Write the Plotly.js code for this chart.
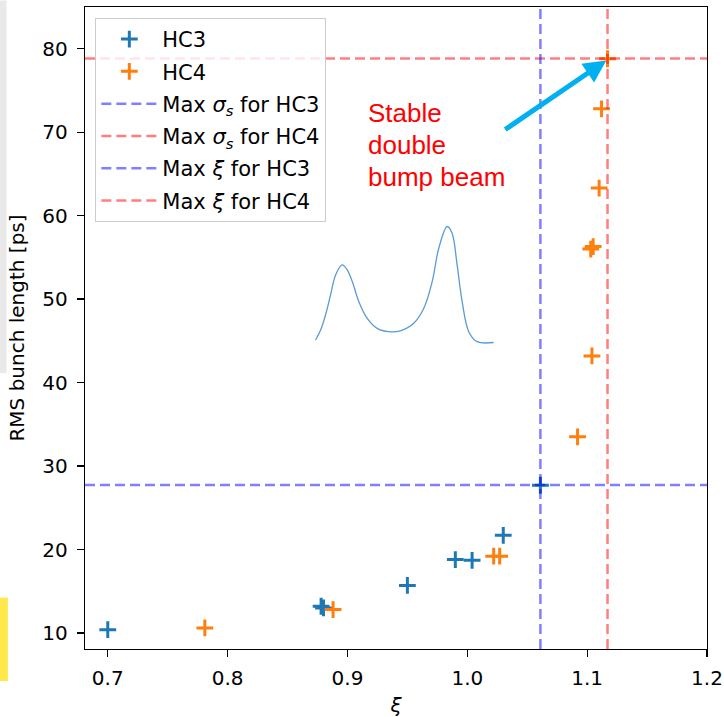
<!DOCTYPE html>
<html>
<head>
<meta charset="utf-8">
<script src="https://cdn.plot.ly/plotly-3.0.1.min.js"></script>
<style>html,body{margin:0;padding:0;background:#fff;}#chart{width:724px;height:717px;}</style>
</head>
<body>
<div id="chart"></div>
<script>
// ---- data ----
const hc3X = [0.700, 0.878, 0.880, 0.950, 0.990, 1.004, 1.030, 1.061];
const hc3Y = [10.4, 13.2, 13.0, 15.7, 18.8, 18.7, 21.7, 27.7];
const hc4X = [0.781, 0.888, 1.022, 1.027, 1.092, 1.104, 1.103, 1.105, 1.110, 1.112, 1.117];
const hc4Y = [10.6, 12.8, 19.2, 19.2, 33.5, 43.2, 56.0, 56.3, 63.3, 72.8, 78.8];
const maxSigma = {HC3: 27.74, HC4: 78.84};
const maxXi = {HC3: 1.061, HC4: 1.117};
// double-bump profile sketch (drawn in data coordinates)
const bumpX = [0.8734, 0.8776, 0.8817, 0.8859, 0.8901, 0.8956, 0.8998, 0.9040, 0.9095, 0.9165, 0.9248, 0.9345,
               0.9443, 0.9553, 0.9637, 0.9707, 0.9762, 0.9832, 0.9873, 0.9915, 0.9957, 1.0012, 1.0082, 1.0220];
const bumpY = [45.1, 46.3, 48.1, 50.5, 52.9, 54.1, 53.5, 52.1, 49.7, 47.7, 46.5, 46.1,
               46.2, 47.1, 48.9, 52.1, 56.1, 58.7, 57.9, 54.1, 49.7, 46.1, 44.9, 44.8];
const xTicks = [0.7, 0.8, 0.9, 1.0, 1.1, 1.2];
const yTicks = [10, 20, 30, 40, 50, 60, 70, 80];
const XLIM = [0.681, 1.2];
const YLIM = [8.08, 85.0];
const labelLines = ['Stable', 'double', 'bump beam'];

const FONT = 'DejaVu Sans, sans-serif';
const BLUE = '#1f77b4', ORANGE = '#ff7f0e';
const LBLUE = 'rgba(0,0,255,0.5)', LRED = 'rgba(255,0,0,0.5)';
const DASH = '10px,5px';

const traces = [
  {x: hc3X, y: hc3Y, type: 'scatter', mode: 'markers', name: 'HC3', legendgroup: 'g1',
   marker: {symbol: 'cross-thin', size: 12, color: BLUE, line: {color: BLUE, width: 3}}},
  {x: hc4X, y: hc4Y, type: 'scatter', mode: 'markers', name: 'HC4', legendgroup: 'g2',
   marker: {symbol: 'cross-thin', size: 12, color: ORANGE, line: {color: ORANGE, width: 3}}},
  {x: XLIM, y: [maxSigma.HC3, maxSigma.HC3], type: 'scatter', mode: 'lines', legendgroup: 'g3',
   name: 'Max <i>σ</i><sub><i>s</i></sub> for HC3', line: {color: LBLUE, width: 2.5, dash: DASH}},
  {x: XLIM, y: [maxSigma.HC4, maxSigma.HC4], type: 'scatter', mode: 'lines', legendgroup: 'g4',
   name: 'Max <i>σ</i><sub><i>s</i></sub> for HC4', line: {color: LRED, width: 2.5, dash: DASH}},
  {x: [maxXi.HC3, maxXi.HC3], y: YLIM, type: 'scatter', mode: 'lines', legendgroup: 'g5',
   name: 'Max <i>ξ</i> for HC3', line: {color: LBLUE, width: 2.5, dash: DASH}},
  {x: [maxXi.HC4, maxXi.HC4], y: YLIM, type: 'scatter', mode: 'lines', legendgroup: 'g6',
   name: 'Max <i>ξ</i> for HC4', line: {color: LRED, width: 2.5, dash: DASH}},
  {x: bumpX, y: bumpY, type: 'scatter', mode: 'lines', showlegend: false, hoverinfo: 'skip',
   line: {color: '#5a9bd4', width: 1.3, shape: 'spline'}}
];

const axisCommon = {
  showgrid: false, zeroline: false, showline: true, mirror: true,
  linecolor: '#000', linewidth: 1.3, ticks: 'outside', ticklen: 7, tickwidth: 1.3, tickcolor: '#000',
  tickfont: {family: FONT, size: 20, color: '#000'}
};

// red label, one annotation per line (pixel rows of the reference converted to data y)
const labelY = [72.35, 68.5, 64.65];
const annotations = labelLines.map((t, i) => ({
  x: 0.9155, y: labelY[i], xref: 'x', yref: 'y', xanchor: 'left', yanchor: 'middle', align: 'left',
  text: t, showarrow: false,
  font: {family: 'Liberation Sans, Arial, sans-serif', size: 26, color: '#ff0000'}
}));
annotations.push({x: 1.116, y: 78.6, xref: 'x', yref: 'y', ax: 1.0304, ay: 70.2, axref: 'x', ayref: 'y',
  text: '', showarrow: true, arrowcolor: '#00b0f0', arrowwidth: 5, arrowhead: 2, arrowsize: 0.9, standoff: 0});

const layout = {
  width: 724, height: 717,
  margin: {l: 85, r: 17, t: 7, b: 68},
  paper_bgcolor: '#fff', plot_bgcolor: '#fff',
  font: {family: FONT, size: 20, color: '#000'},
  xaxis: Object.assign({}, axisCommon, {
    range: XLIM, tickvals: xTicks, tickformat: '.1f', ticklabelstandoff: 4,
    title: {text: '<i>ξ</i>', font: {family: FONT, size: 20, color: '#000'}, standoff: 8}
  }),
  yaxis: Object.assign({}, axisCommon, {
    range: YLIM, tickvals: yTicks, ticklabelstandoff: 5,
    title: {text: 'RMS bunch length [ps]', font: {family: FONT, size: 20, color: '#000'}, standoff: 12}
  }),
  legend: {
    x: 0.0166, y: 0.983, xanchor: 'left', yanchor: 'top', traceorder: 'grouped', tracegroupgap: 2,
    bgcolor: 'rgba(255,255,255,0.8)', bordercolor: '#cccccc', borderwidth: 1,
    font: {family: FONT, size: 21, color: '#000'}, itemwidth: 56
  },
  shapes: [
    {type: 'rect', xref: 'paper', yref: 'paper', x0: -0.137, x1: -0.126, y0: 0.43, y1: 1.01,
     fillcolor: '#e9e9e9', line: {width: 0}, layer: 'below'},
    {type: 'rect', xref: 'paper', yref: 'paper', x0: -0.137, x1: -0.124, y0: -0.05, y1: 0.08,
     fillcolor: '#ffe84a', line: {width: 0}, layer: 'below'}
  ],
  annotations: annotations,
  showlegend: true
};

Plotly.newPlot('chart', traces, layout, {displayModeBar: false, staticPlot: true});
</script>
</body>
</html>
